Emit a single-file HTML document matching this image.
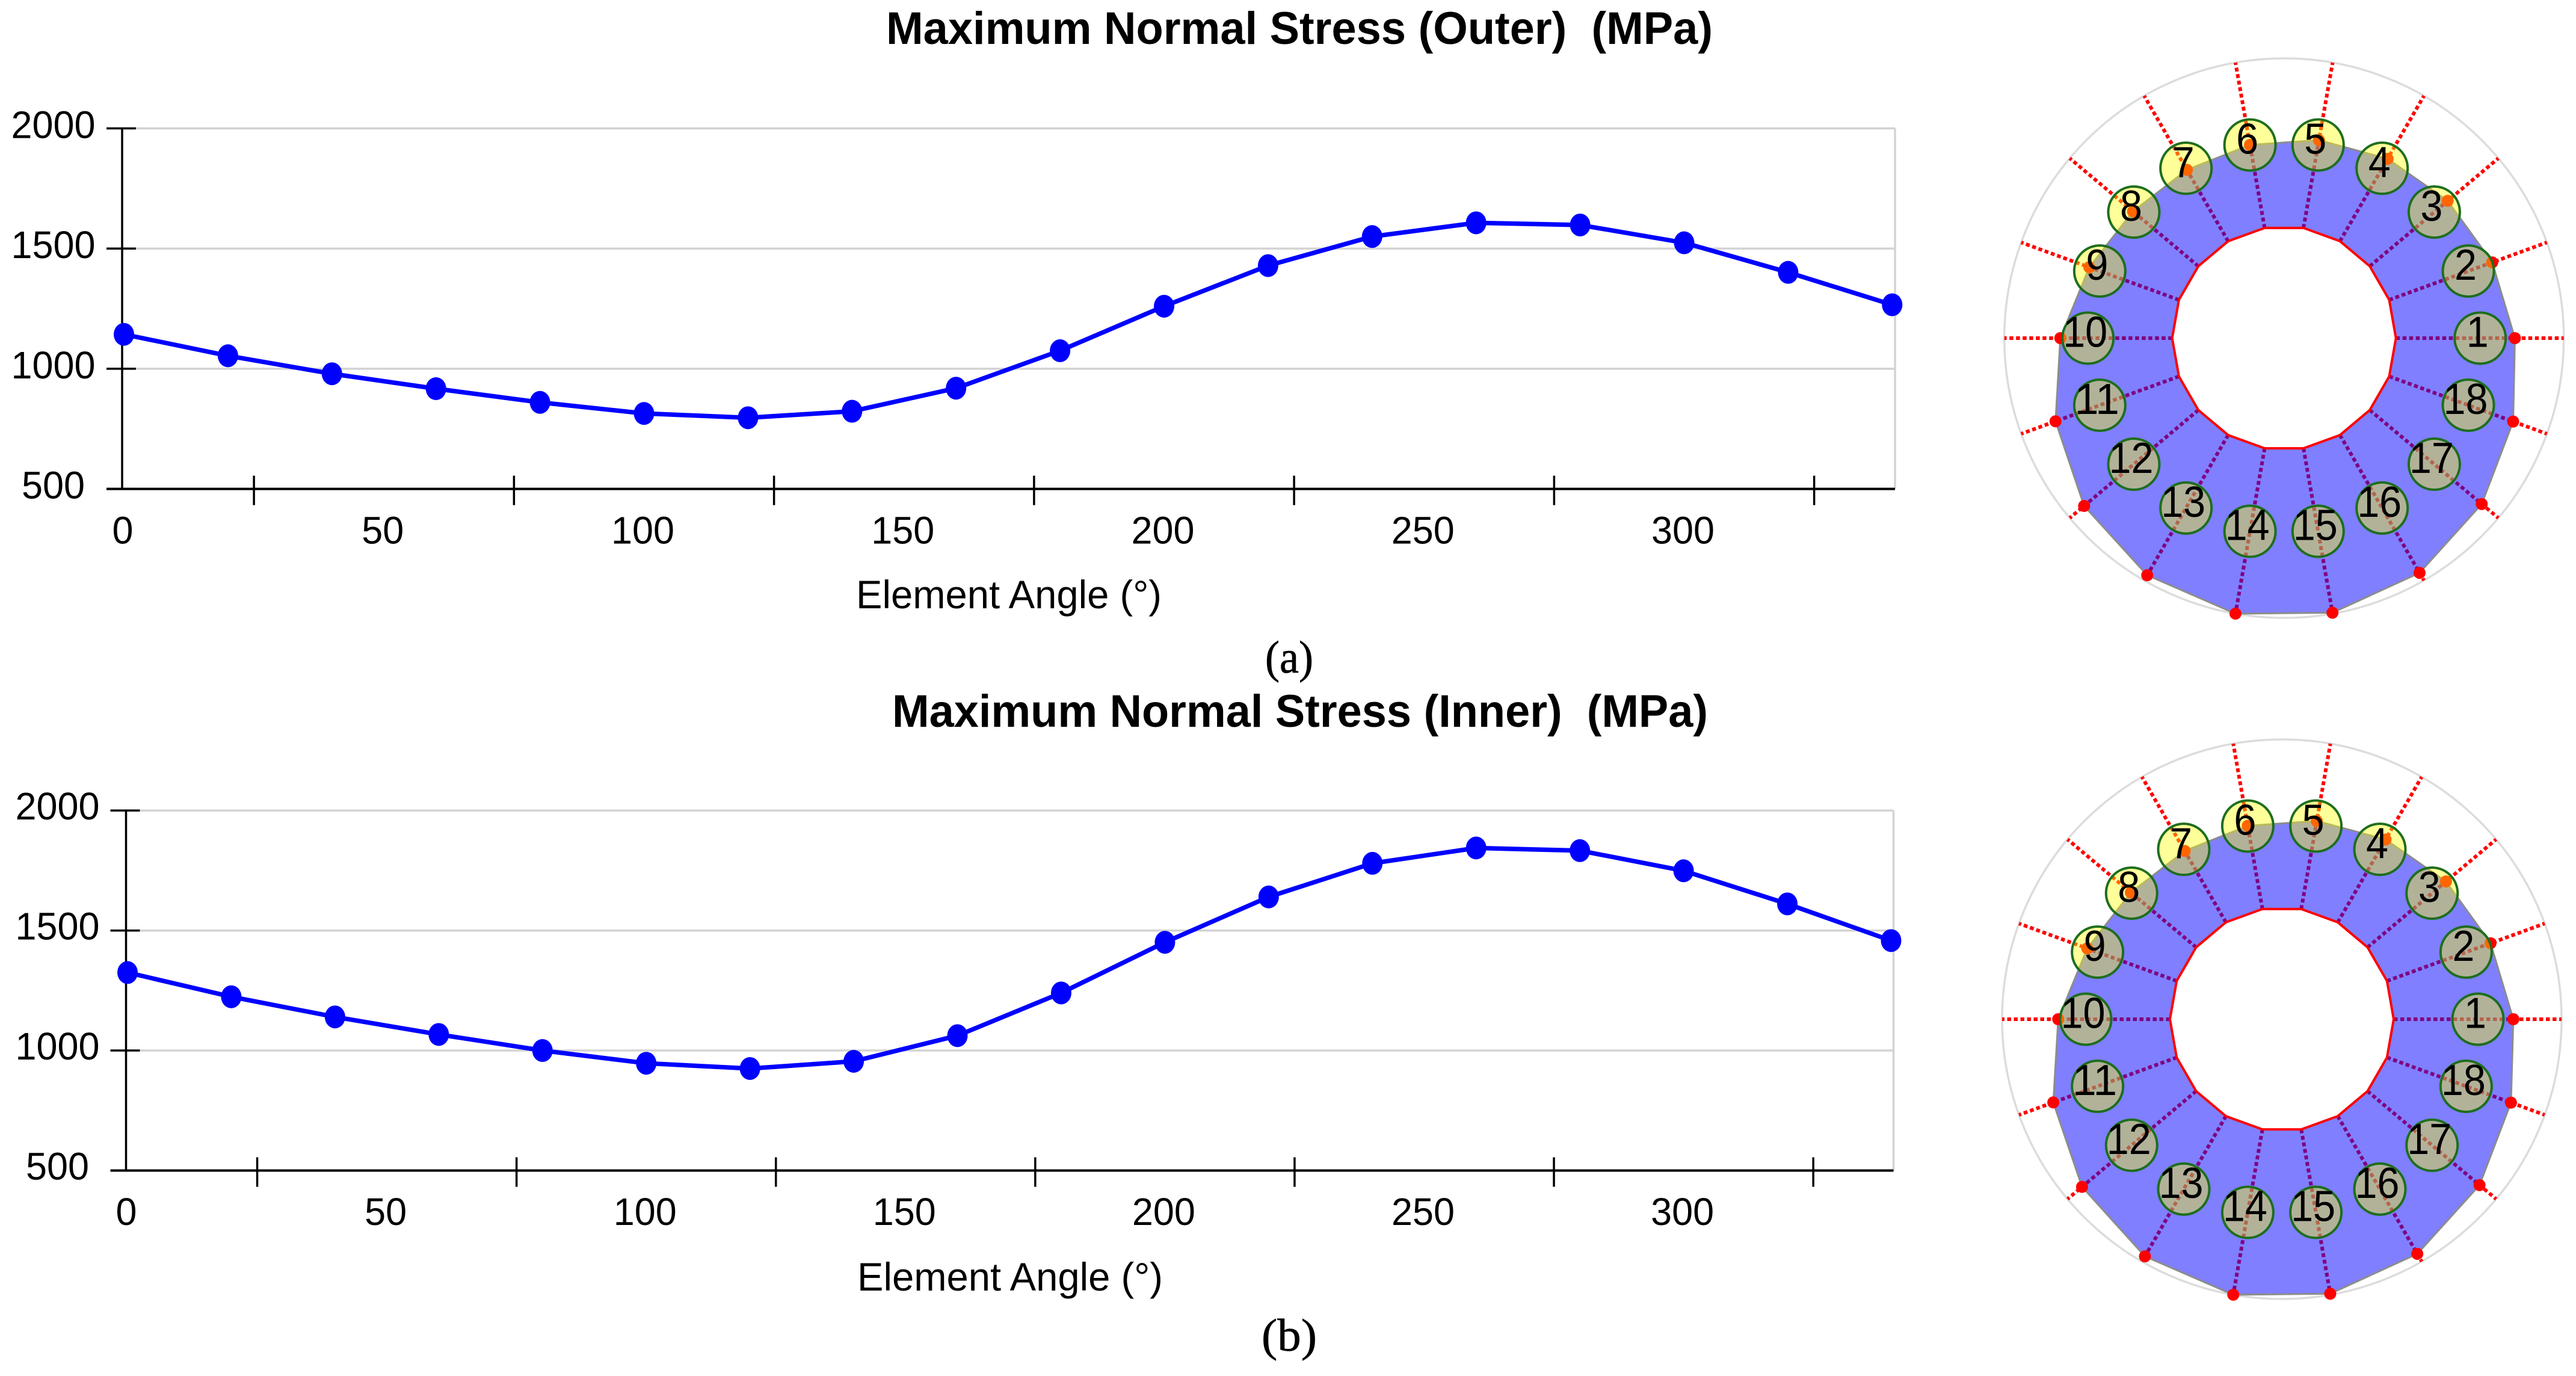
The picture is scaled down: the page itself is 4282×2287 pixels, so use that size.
<!DOCTYPE html>
<html lang="en">
<head>
<meta charset="utf-8">
<title>Maximum Normal Stress</title>
<style>
html,body{margin:0;padding:0;background:#fff;width:4282px;height:2287px;overflow:hidden}
svg{display:block}
text{font-family:"Liberation Sans",sans-serif;fill:#000}
.cap{font-family:"Liberation Serif",serif;font-size:76px;stroke:#000;stroke-width:.7}
.ttl{font-weight:bold;font-size:76px}
</style>
</head>
<body>
<svg id="fig" xmlns="http://www.w3.org/2000/svg" width="4282" height="2287" viewBox="0 0 4282 2287">
  <rect x="0" y="0" width="4282" height="2287" fill="#fff"/>
  <text class="ttl" x="1473" y="73" textLength="1374" lengthAdjust="spacingAndGlyphs">Maximum Normal Stress (Outer)&#160; (MPa)</text>
  <text class="ttl" x="1483" y="1208" textLength="1356" lengthAdjust="spacingAndGlyphs">Maximum Normal Stress (Inner)&#160; (MPa)</text>
  <text x="1423" y="1011" font-size="66" textLength="508" lengthAdjust="spacingAndGlyphs">Element Angle (°)</text>
  <text x="1425" y="2145" font-size="66" textLength="508" lengthAdjust="spacingAndGlyphs">Element Angle (°)</text>
  <text class="cap" x="2103" y="1118" textLength="80" lengthAdjust="spacingAndGlyphs">(a)</text>
  <text class="cap" x="2097" y="2245" textLength="92" lengthAdjust="spacingAndGlyphs">(b)</text>
  <g id="chart-a"></g>
  <g id="chart-b"></g>
  <g id="ring-a"></g>
  <g id="ring-b"></g>
</svg>
<script>
const angles = [0,20,40,60,80,100,120,140,160,180,200,220,240,260,280,300,320,340];
const outerStress = [1143,1054,979,917,860,814,796,823,919,1075,1260,1429,1550,1607,1598,1524,1401,1266];
const innerStress = [1325,1224,1140,1067,1000,947,925,955,1062,1240,1451,1640,1780,1844,1833,1749,1611,1458];
const yTickLabels = [500,1000,1500,2000];
const xTickLabels = [0,50,100,150,200,250,300];
const xMinorTicks = [25,75,125,175,225,275,325];
const elementLabels = ['1','2','3','4','5','6','7','8','9','10','11','12','13','14','15','16','17','18'];

const NS = 'http://www.w3.org/2000/svg';
function make(parent, tag, attrs, text) {
  const el = document.createElementNS(NS, tag);
  for (const k in attrs) el.setAttribute(k, attrs[k]);
  if (text !== undefined) el.textContent = text;
  parent.appendChild(el);
  return el;
}

function drawChart(group, values, layout) {
  const xAxis = v => layout.x0 + v * layout.xPerUnit;
  const yAxis = v => layout.y500 - (v - 500) * layout.yPerUnit;
  const yMin = yAxis(500), yMax = yAxis(2000);

  yTickLabels.forEach(v => {
    if (v !== 500) {
      const grid = make(group, 'line', {x1: layout.axisX + 23, x2: layout.right, y1: yAxis(v), y2: yAxis(v), stroke: '#d3d3d3', 'stroke-width': 3.5});
      
      
    }
    const tick = make(group, 'line', {x1: layout.axisX - 26, x2: layout.axisX + 23, y1: yAxis(v), y2: yAxis(v), stroke: '#000', 'stroke-width': 3.5});
    
    
    const label = make(group, 'text', {x: layout.yLabelX, y: yAxis(v) + layout.yLabelDy, 'text-anchor': 'middle', 'font-size': 64, textLength: String(v).length * 35, lengthAdjust: 'spacingAndGlyphs'}, String(v));
    
    
  });

  const border = make(group, 'line', {x1: layout.right, x2: layout.right, y1: yMax, y2: yMin, stroke: '#d3d3d3', 'stroke-width': 3.5});
  
  

  const yLine = make(group, 'line', {x1: layout.axisX, x2: layout.axisX, y1: yMax, y2: yMin, stroke: '#000', 'stroke-width': 3.5});
  
  

  const xLine = make(group, 'line', {x1: layout.axisX - 26, x2: layout.right, y1: yMin, y2: yMin, stroke: '#000', 'stroke-width': 4});
  
  

  xMinorTicks.forEach(v => {
    const tick = make(group, 'line', {x1: xAxis(v), x2: xAxis(v), y1: yMin - 22, y2: yMin + 27, stroke: '#000', 'stroke-width': 3.5});
    
    
  });

  xTickLabels.forEach(v => {
    const label = make(group, 'text', {x: xAxis(v) - 2, y: layout.xLabelY, 'text-anchor': 'middle', 'font-size': 64, textLength: String(v).length * 35, lengthAdjust: 'spacingAndGlyphs'}, String(v));
    
    
  });

  const pts = angles.map((a, i) => xAxis(a) + ',' + yAxis(values[i])).join(' ');
  const line = make(group, 'polyline', {points: pts, fill: 'none', stroke: '#0000ff', 'stroke-width': 7.5, 'stroke-linejoin': 'round'});
  
  

  angles.forEach((a, i) => {
    const dot = make(group, 'ellipse', {cx: xAxis(a), cy: yAxis(values[i]), rx: 17, ry: 19, fill: '#0000ff'});
    
    
  });
}

function drawRing(group, values, cx, cy) {
  const rad = a => a * Math.PI / 180;
  const px = (a, r) => cx + r * Math.cos(rad(a));
  const py = (a, r) => cy - r * Math.sin(rad(a));
  const lo = Math.min(...values), hi = Math.max(...values);
  const rOuter = 465, rFloor = 323, rHole = 186, rLabel = 326;
  const rScale = v => rFloor + (v - lo) / (hi - lo) * (rOuter - rFloor);

  const guide = make(group, 'circle', {cx: cx, cy: cy, r: rOuter, fill: '#fff', stroke: '#dcdcdc', 'stroke-width': 3.5});
  
  

  angles.forEach(a => {
    const spoke = make(group, 'line', {x1: px(a, rHole), y1: py(a, rHole), x2: px(a, rOuter), y2: py(a, rOuter), stroke: '#ff0000', 'stroke-width': 6, 'stroke-dasharray': '6.5 4.5'});
    
    
  });

  const outerPath = angles.map((a, i) => (i ? 'L' : 'M') + px(a, rScale(values[i])) + ' ' + py(a, rScale(values[i]))).join(' ') + ' Z';
  const holePath = angles.map((a, i) => (i ? 'L' : 'M') + px(a, rHole) + ' ' + py(a, rHole)).join(' ') + ' Z';

  const band = make(group, 'path', {d: outerPath + ' ' + holePath, 'fill-rule': 'evenodd', fill: 'rgba(0,0,255,0.5)'});
  
  

  const edge = make(group, 'path', {d: outerPath, fill: 'none', stroke: '#8c8c8c', 'stroke-width': 3});
  
  

  const hole = make(group, 'path', {d: holePath, fill: '#fff', stroke: '#ff0000', 'stroke-width': 4});
  
  

  angles.forEach((a, i) => {
    const dot = make(group, 'circle', {cx: px(a, rScale(values[i])), cy: py(a, rScale(values[i])), r: 10, fill: '#ff0000'});
    
    
  });

  angles.forEach((a, i) => {
    const badge = make(group, 'circle', {cx: px(a, rLabel), cy: py(a, rLabel), r: 42.5, fill: 'rgba(255,255,0,0.4)', stroke: '#1e6e1e', 'stroke-width': 4});
    
    
    const label = make(group, 'text', {x: px(a, rLabel) - 4.5, y: py(a, rLabel) + 14.7, 'text-anchor': 'middle', 'font-size': 72, textLength: elementLabels[i].length * 37, lengthAdjust: 'spacingAndGlyphs'}, elementLabels[i]);
    
    
  });
}

drawChart(document.getElementById('chart-a'), outerStress, {x0: 206, xPerUnit: 8.645, y500: 812.6, yPerUnit: 0.3995, axisX: 203, right: 3150, yLabelX: 88.5, yLabelDy: 16, xLabelY: 903.5});
drawChart(document.getElementById('chart-b'), innerStress, {x0: 212, xPerUnit: 8.622, y500: 1945.5, yPerUnit: 0.3989, axisX: 209.5, right: 3147.5, yLabelX: 95.5, yLabelDy: 15, xLabelY: 2036});
drawRing(document.getElementById('ring-a'), outerStress, 3796.7, 562);
drawRing(document.getElementById('ring-b'), innerStress, 3793, 1694);
</script>
</body>
</html>
